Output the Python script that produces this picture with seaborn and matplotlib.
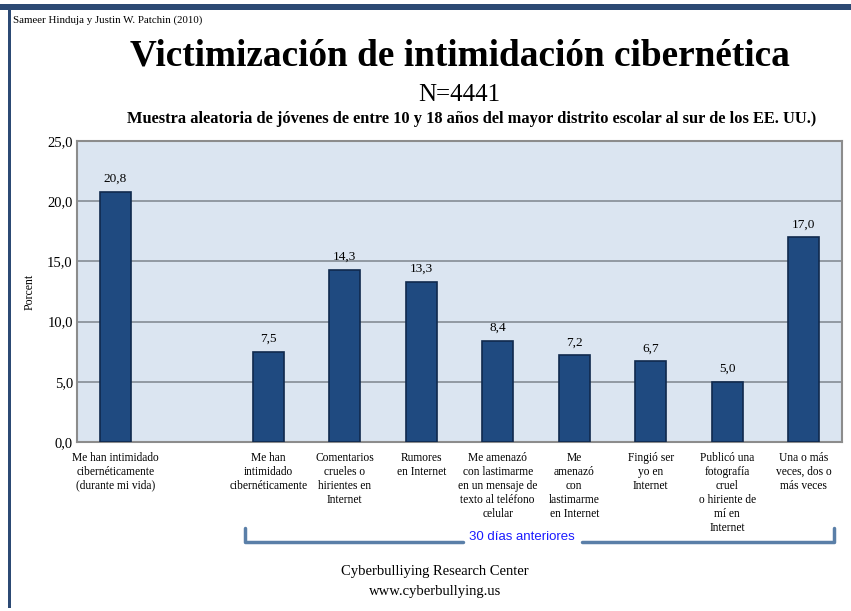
import matplotlib
matplotlib.use("Agg")
import matplotlib.pyplot as plt
import seaborn as sns
import pandas as pd
from matplotlib.patches import Rectangle
from matplotlib.lines import Line2D

# ---- data ----
categories = [
    "Me han intimidado\ncibernéticamente\n(durante mi vida)",
    " ",
    "Me han\nintimidado\ncibernéticamente",
    "Comentarios\ncrueles o\nhirientes en\nInternet",
    "Rumores\nen Internet",
    "Me amenazó\ncon lastimarme\nen un mensaje de\ntexto al teléfono\ncelular",
    "Me\namenazó\ncon\nlastimarme\nen Internet",
    "Fingió ser\nyo en\nInternet",
    "Publicó una\nfotografía\ncruel\no hiriente de\nmí en\nInternet",
    "Una o más\nveces, dos o\nmás veces",
]
values = [20.8, None, 7.5, 14.3, 13.3, 8.4, 7.2, 6.7, 5.0, 17.0]
y_ticks = [0, 5, 10, 15, 20, 25]
y_tick_labels = ["0,0", "5,0", "10,0", "15,0", "20,0", "25,0"]

df = pd.DataFrame({"cat": categories, "val": values}).dropna()

sns.set_style("white")
plt.rcParams["font.family"] = ["Liberation Serif", "DejaVu Serif"]
plt.rcParams["text.color"] = "black"
plt.rcParams["axes.labelcolor"] = "black"
plt.rcParams["xtick.color"] = "black"
plt.rcParams["ytick.color"] = "black"

W, H = 851, 611
fig = plt.figure(figsize=(W / 100, H / 100), dpi=100)
fig.patch.set_facecolor("white")

def fx(x):
    return x / W

def fy(y):
    return 1 - y / H

ax = fig.add_axes([fx(77), fy(442), fx(842) - fx(77), fy(141) - fy(442)])
ax.set_facecolor("#dbe5f1")

sns.barplot(data=df, x="cat", y="val", order=categories, ax=ax,
            color="#1f4a80", width=0.4, saturation=1,
            edgecolor="#10294d", linewidth=1.2, zorder=3)

ax.set_xlim(-0.5, len(categories) - 0.5)
ax.set_ylim(0, 25)
ax.set_yticks(y_ticks)
ax.set_yticklabels(y_tick_labels, fontsize=10.5)
ax.set_xticks(range(len(categories)))
ax.set_xticklabels(categories, fontsize=8.3, linespacing=1.22, va="top")
ax.tick_params(axis="x", length=0, pad=7)
ax.tick_params(axis="y", length=0, pad=3)
ax.set_xlabel("")
ax.set_ylabel("Porcent", fontsize=8.5, labelpad=8)

for y in y_ticks[1:-1]:
    ax.axhline(y, color="#8c949c", lw=1.3, zorder=1)
for s in ax.spines.values():
    s.set_color("#8c8c8c")
    s.set_linewidth(1.5)

for c in ax.containers:
    ax.bar_label(c, labels=[f"{v:.1f}".replace(".", ",") for v in c.datavalues],
                 padding=5, fontsize=9.5)

# ---- frame decorations ----
fig.add_artist(Rectangle((0, fy(10)), 1, fy(4) - fy(10), transform=fig.transFigure,
                         facecolor="#2c4a74", edgecolor="none"))
fig.add_artist(Rectangle((fx(8), fy(608)), fx(3), fy(10) - fy(608), transform=fig.transFigure,
                         facecolor="#2c4a74", edgecolor="none"))

# ---- texts ----
fig.text(fx(13), fy(20), "Sameer Hinduja y Justin W. Patchin (2010)", fontsize=7.8,
         ha="left", va="center")
fig.text(fx(460), fy(56), "Victimización de intimidación cibernética", fontsize=26.8,
         fontweight="bold", ha="center", va="center")
fig.text(fx(459), fy(95), "N=4441", fontsize=18, ha="center", va="center")
fig.text(fx(472), fy(119),
         "Muestra aleatoria de jóvenes de entre 10 y 18 años del mayor distrito escolar al sur de los EE. UU.)",
         fontsize=11.8, fontweight="bold", ha="center", va="center")

# bracket "30 días anteriores"
bc = "#5a7fa8"
by = 542
fig.add_artist(Line2D([fx(245), fx(245), fx(463)], [fy(528), fy(by), fy(by)],
                      transform=fig.transFigure, color=bc, lw=2.5))
fig.add_artist(Line2D([fx(582), fx(834), fx(834)], [fy(by), fy(by), fy(528)],
                      transform=fig.transFigure, color=bc, lw=2.5))
fig.text(fx(522), fy(537), "30 días anteriores", fontsize=9.5, color="#1a1aff",
         family=["Liberation Sans", "DejaVu Sans"], ha="center", va="center")

fig.text(fx(435), fy(572), "Cyberbulliying Research Center", fontsize=10.5,
         ha="center", va="center")
fig.text(fx(435), fy(591), "www.cyberbullying.us", fontsize=10.5,
         ha="center", va="center")

fig.savefig("out.png", dpi=100)
